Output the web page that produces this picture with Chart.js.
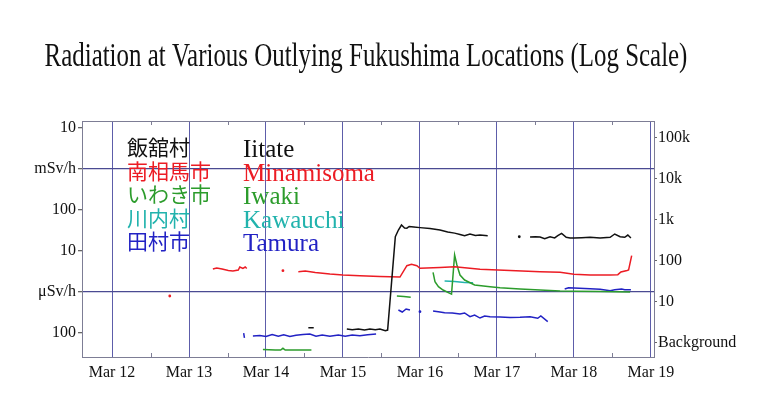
<!DOCTYPE html>
<html>
<head>
<meta charset="utf-8">
<script src="https://cdn.jsdelivr.net/npm/chart.js@4.4.0/dist/chart.umd.min.js"></script>
<style>
  body { margin: 0; background: #fff; }
  #wrap { width: 779px; height: 401px; }
</style>
</head>
<body>
<div id="wrap"><canvas id="chart" width="779" height="401"></canvas></div>
<script>
// days of March (decimal), dose in μSv/h ; [day, null] breaks a line
const iitate = [
  [14.55, 0.135], [14.62, 0.135], [14.8, null],
  [15.05, 0.125], [15.12, 0.12], [15.2, 0.125], [15.28, 0.118], [15.35, 0.126], [15.42, 0.121],
  [15.48, 0.125], [15.55, 0.114], [15.58, 0.118], [15.68, 22.3], [15.72, 32.5], [15.76, 43],
  [15.8, 36.4], [15.83, 36], [15.86, 39.6], [15.92, 38.5], [16.0, 37.2], [16.13, 35.4],
  [16.26, 32.5], [16.36, 29], [16.45, 27.3], [16.52, 25.3], [16.58, 23.6], [16.65, 26],
  [16.72, 23.9], [16.78, 24.5], [16.88, 23.6], [17.1, null],
  [17.29, 22.3], [17.36, null],
  [17.43, 22], [17.5, 22.3], [17.56, 21.9], [17.62, 19.9], [17.69, 22.3], [17.75, 20.8],
  [17.79, 23.6], [17.84, 27], [17.9, 21.6], [17.95, 20.8], [18.0, 20.8], [18.1, 21.2],
  [18.21, 21.6], [18.34, 20.8], [18.47, 21.6], [18.53, 26], [18.6, 22.3], [18.66, 21.6],
  [18.7, 24.5], [18.74, 20.8]
];
const minamisoma = [
  [12.75, 0.8], [13.0, null],
  [13.31, 3.64], [13.36, 3.85], [13.43, 3.64], [13.51, 3.34], [13.57, 3.25], [13.64, 3.44],
  [13.66, 4.07], [13.7, 3.75], [13.73, 4.07], [13.75, 3.75], [14.0, null],
  [14.22, 3.31], [14.3, null],
  [14.42, 3.13], [14.51, 3.25], [14.64, 2.99], [14.83, 2.75], [15.0, 2.6], [15.22, 2.5],
  [15.48, 2.39], [15.74, 2.32], [15.83, 4.38], [15.89, 4.74], [15.96, 4.38], [16.0, 3.79],
  [16.26, 3.96], [16.45, 4.14], [16.78, 3.58], [17.17, 3.34], [17.56, 3.13], [17.82, 3.02],
  [18.0, 2.7], [18.21, 2.6], [18.47, 2.6], [18.57, 2.65], [18.61, 3.07], [18.69, 3.34],
  [18.71, 3.44], [18.75, 7.68]
];
const iwaki = [
  [13.96, 0.0396], [14.12, 0.0385], [14.19, 0.0385], [14.22, 0.0424], [14.25, 0.0385],
  [14.59, 0.0385], [15.0, null],
  [15.7, 0.8], [15.79, 0.78], [15.88, 0.743], [16.0, null],
  [16.17, 3.02], [16.195, 1.78], [16.24, 1.35], [16.3, 1.12], [16.41, 0.89], [16.45, 7.99],
  [16.48, 4.56], [16.52, 2.6], [16.58, 1.96], [16.71, 1.48], [16.91, 1.35], [17.04, 1.27],
  [17.3, 1.18], [17.56, 1.12], [17.82, 1.06], [18.0, 1.04], [18.34, 1.03], [18.73, 1.0]
];
const kawauchi = [
  [16.32, 1.85], [16.45, 1.8], [16.58, 1.71], [16.69, 1.69]
];
const tamura = [
  [13.71, 0.1], [13.72, 0.076], [13.78, null],
  [13.83, 0.085], [13.92, 0.087], [14.0, 0.082], [14.08, 0.092], [14.16, 0.084], [14.23, 0.09],
  [14.31, 0.082], [14.39, 0.088], [14.48, 0.092], [14.57, 0.095], [14.65, 0.084], [14.73, 0.09],
  [14.83, 0.083], [14.94, 0.089], [15.03, 0.084], [15.12, 0.09], [15.22, 0.086], [15.32, 0.091],
  [15.43, 0.094], [15.6, null],
  [15.72, 0.364], [15.77, 0.325], [15.82, 0.385], [15.87, 0.364], [15.93, null],
  [16.0, 0.331], [16.08, null],
  [16.17, 0.344], [16.26, 0.325], [16.32, 0.313], [16.42, 0.308], [16.52, 0.29], [16.58, 0.308],
  [16.65, 0.25], [16.71, 0.275], [16.78, 0.232], [16.84, 0.26], [16.91, 0.25], [17.04, 0.245],
  [17.17, 0.238], [17.3, 0.241], [17.43, 0.25], [17.53, 0.229], [17.57, 0.26], [17.66, 0.19],
  [17.8, null],
  [17.88, 1.18], [17.93, 1.27], [18.0, 1.25], [18.21, 1.2], [18.34, 1.16], [18.47, 1.08],
  [18.53, 1.14], [18.62, 1.18], [18.66, 1.14], [18.74, 1.14]
];

const dayTicks = [12, 13, 14, 15, 16, 17, 18, 19];
const dayLabels = ['Mar 12', 'Mar 13', 'Mar 14', 'Mar 15', 'Mar 16', 'Mar 17', 'Mar 18', 'Mar 19'];
const doseTicks = [0.1, 1, 10, 100, 1000, 10000];
const doseLabels = ['100', 'μSv/h', '10', '100', 'mSv/h', '10'];
const ratioTicks = [1, 10, 100, 1000, 10000, 100000];
const ratioLabels = ['Background', '10', '100', '1k', '10k', '100k'];
const BACKGROUND = 0.058; // μSv/h

const names = [
  { jp: '飯舘村', en: 'Iitate', color: '#111111' },
  { jp: '南相馬市', en: 'Minamisoma', color: '#ec1c24' },
  { jp: 'いわき市', en: 'Iwaki', color: '#2c9c2c' },
  { jp: '川内村', en: 'Kawauchi', color: '#22b3ad' },
  { jp: '田村市', en: 'Tamura', color: '#2222c4' },
];
const series = [iitate, minamisoma, iwaki, kawauchi, tamura];

const SERIF = "'Liberation Serif', 'Times New Roman', serif";
const Y_MIN = 0.026, Y_MAX = 14830;

function lonePoint(ctx) {
  const d = ctx.dataset.data, i = ctx.dataIndex;
  if (!d[i] || d[i].y == null) return 0;
  const prev = d[i - 1], next = d[i + 1];
  return (!prev || prev.y == null) && (!next || next.y == null) ? 1.4 : 0;
}

const datasets = series.map((s, k) => ({
  label: names[k].en,
  data: s.map(p => ({ x: p[0], y: p[1] })),
  borderColor: names[k].color,
  backgroundColor: names[k].color,
  borderWidth: 1.5,
  pointRadius: lonePoint,
  pointBorderWidth: 0,
  tension: 0,
  spanGaps: false,
}));

// title, top border, half-day ticks and the text legend
const decor = {
  id: 'decor',
  afterDraw(chart) {
    const ctx = chart.ctx, a = chart.chartArea, xs = chart.scales.x;
    ctx.save();
    ctx.strokeStyle = '#7d7d95';
    ctx.lineWidth = 1;
    ctx.beginPath();
    ctx.moveTo(a.left, a.top + 0.5); ctx.lineTo(a.right, a.top + 0.5);
    for (let d = 12.5; d < 19; d++) {
      const px = Math.round(xs.getPixelForValue(d)) + 0.5;
      ctx.moveTo(px, a.bottom); ctx.lineTo(px, a.bottom - 4);
      ctx.moveTo(px, a.top); ctx.lineTo(px, a.top + 4);
    }
    ctx.stroke();

    // title (narrow serif)
    ctx.fillStyle = '#111';
    ctx.font = '33px ' + SERIF;
    ctx.textAlign = 'center';
    ctx.textBaseline = 'alphabetic';
    ctx.translate((a.left + a.right) / 2 - 2, 66);
    ctx.scale(0.755, 1);
    ctx.fillText('Radiation at Various Outlying Fukushima Locations (Log Scale)', 0, 0);
    ctx.restore();

    ctx.save();
    ctx.textAlign = 'left';
    ctx.textBaseline = 'alphabetic';
    names.forEach((n, i) => {
      const base = 157 + i * 23.5;
      ctx.fillStyle = n.color;
      ctx.font = "21px 'Noto Sans CJK JP'";
      ctx.fillText(n.jp, 127, base - 2);
      ctx.font = '25px ' + SERIF;
      ctx.fillText(n.en, 243, base);
    });
    ctx.restore();
  }
};

new Chart(document.getElementById('chart'), {
  type: 'line',
  data: { datasets },
  plugins: [decor],
  options: {
    responsive: false,
    animation: false,
    layout: { padding: { top: 121, left: 0, right: 0, bottom: 0 } },
    plugins: { legend: { display: false }, tooltip: { enabled: false }, title: { display: false } },
    scales: {
      x: {
        type: 'linear',
        bounds: 'data',
        min: 11.61,
        max: 19.04,
        afterBuildTicks: s => { s.ticks = dayTicks.map(v => ({ value: v })); },
        afterFit: s => { s.height = 44; },
        ticks: {
          callback: (v, i) => dayLabels[i],
          autoSkip: false, maxRotation: 0, padding: 6,
          color: '#111', font: { family: SERIF, size: 16 }
        },
        grid: { color: '#5d5daa', lineWidth: 1, drawTicks: false },
        border: { color: '#7d7d95' }
      },
      y: {
        type: 'logarithmic',
        position: 'left',
        bounds: 'data',
        min: Y_MIN,
        max: Y_MAX,
        afterBuildTicks: s => { s.ticks = doseTicks.map(v => ({ value: v })); },
        afterFit: s => { s.width = 82; },
        ticks: {
          callback: (v, i) => doseLabels[i],
          autoSkip: false, padding: 2,
          color: '#111', font: { family: SERIF, size: 16 }
        },
        grid: {
          color: c => (c.tick && (c.tick.value === 1 || c.tick.value === 1000)) ? '#4a4a92' : 'rgba(0,0,0,0)',
          lineWidth: 1.3,
          tickColor: '#666', tickLength: 4
        },
        border: { color: '#7d7d95' }
      },
      y2: {
        type: 'logarithmic',
        position: 'right',
        bounds: 'data',
        min: Y_MIN / BACKGROUND,
        max: Y_MAX / BACKGROUND,
        afterBuildTicks: s => { s.ticks = ratioTicks.map(v => ({ value: v })); },
        afterFit: s => { s.width = 125; },
        ticks: {
          callback: (v, i) => ratioLabels[i],
          autoSkip: false, padding: 1,
          color: '#111', font: { family: SERIF, size: 16 }
        },
        grid: { drawOnChartArea: false, tickColor: '#666', tickLength: 3 },
        border: { color: '#7d7d95' }
      }
    }
  }
});
</script>
</body>
</html>
